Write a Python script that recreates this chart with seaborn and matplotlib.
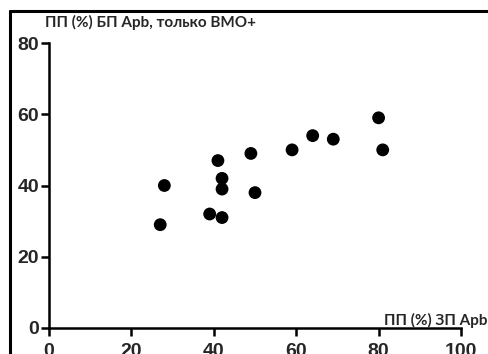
import matplotlib
matplotlib.use("Agg")
import matplotlib.pyplot as plt
import seaborn as sns
import pandas as pd
from matplotlib.lines import Line2D

# values
zp_apb = [27, 28, 41, 42, 42, 39, 42, 49, 50, 59, 64, 69, 80, 81]
bp_apb = [29, 40, 47, 42, 39, 32, 31, 49, 38, 50, 54, 53, 59, 50]
x_ticks = [0, 20, 40, 60, 80, 100]
y_ticks = [0, 20, 40, 60, 80]

df = pd.DataFrame({"x": zp_apb, "y": bp_apb})

sns.set_style("ticks")
plt.rcParams['font.family'] = ['Liberation Sans', 'DejaVu Sans']

fig = plt.figure(figsize=(4.89, 3.54), dpi=100)
ax = fig.add_axes([49 / 489, 26 / 354, 412 / 489, 285 / 354])

sns.scatterplot(data=df, x="x", y="y", color="black", s=85, edgecolor="none",
                ax=ax, clip_on=False, zorder=3)

ax.set_xlim(0, 100)
ax.set_ylim(0, 80)
ax.set_xticks(x_ticks)
ax.set_yticks(y_ticks)
ax.set_xlabel("")
ax.set_ylabel("")
sns.despine(ax=ax)
for side in ["left", "bottom"]:
    ax.spines[side].set_linewidth(1.8)
    ax.spines[side].set_color("black")
ax.tick_params(axis="both", length=6, width=1.8, color="black", labelsize=14)
ax.tick_params(axis="y", pad=1)
ax.tick_params(axis="x", pad=4.5)
for lab in ax.get_xticklabels() + ax.get_yticklabels():
    lab.set_fontweight("bold")

lbl_font = ['Lato', 'Open Sans', 'DejaVu Sans']
fig.text(45 / 489, 1 - 22 / 354, "ПП (%) БП Apb, только ВМО+", ha="left", va="center",
         fontsize=11, fontweight="bold", family=lbl_font)
fig.text(488 / 489, 1 - 320 / 354, "ПП (%) ЗП Apb", ha="right", va="center",
         fontsize=11, fontweight="bold", family=lbl_font)

# frame of the cropped picture
fig.add_artist(Line2D([10 / 489, 10 / 489], [-0.05, 1 - 10.5 / 354],
                      transform=fig.transFigure, color="black", lw=2.2))
fig.add_artist(Line2D([10 / 489, 1.05], [1 - 10.5 / 354, 1 - 10.5 / 354],
                      transform=fig.transFigure, color="black", lw=2.2))

fig.savefig("out.png", dpi=100)
